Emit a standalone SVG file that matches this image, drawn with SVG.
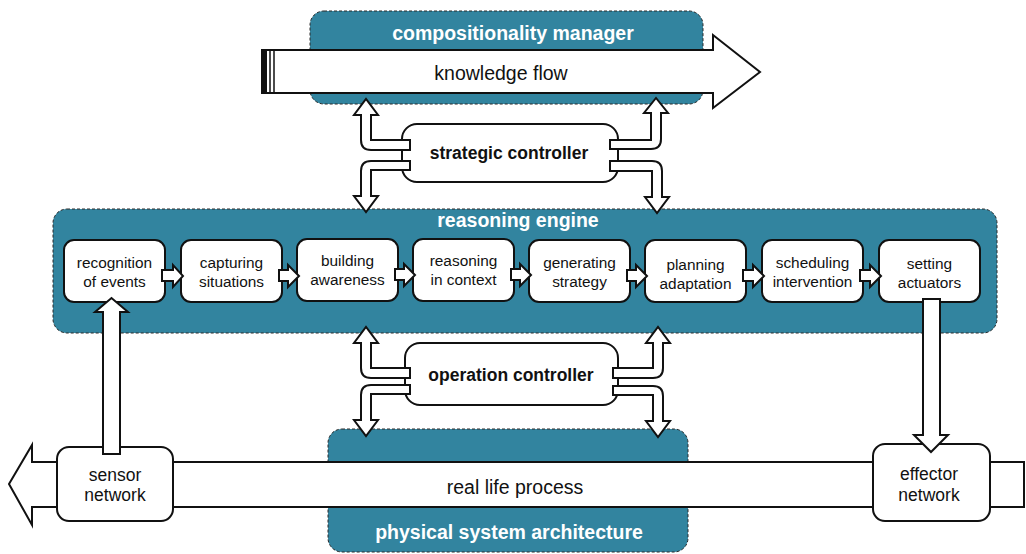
<svg xmlns="http://www.w3.org/2000/svg" width="1026" height="554" viewBox="0 0 1026 554">
<defs>
<style>
.area{fill:#32849f;stroke:#2a2a2a;stroke-width:1;stroke-dasharray:3 2}
.node{fill:#fff;stroke:#111;stroke-width:2}
.arr{fill:#fff;stroke:#111;stroke-width:2;stroke-linejoin:miter}
.t{font-family:"Liberation Sans",Arial,sans-serif;fill:#111;text-anchor:middle}
.s{font-size:15.4px}
.m{font-size:17.5px}
.big{font-size:19.5px}
.b{font-weight:bold}
.w{fill:#fff}
</style>
</defs>
<rect width="1026" height="554" fill="#fff"/>

<g id="compositionality-manager">
<rect class="area" x="310" y="11" width="393" height="93" rx="14"/>
<text class="t big b w" x="513" y="40">compositionality manager</text>
</g>

<g id="reasoning-engine">
<rect class="area" x="53" y="209" width="944" height="124" rx="14"/>
<text class="t big b w" x="518" y="227">reasoning engine</text>
</g>

<g id="physical-system-architecture">
<rect class="area" x="328" y="429" width="360" height="123" rx="14"/>
<text class="t big b w" x="509" y="539">physical system architecture</text>
</g>

<g id="knowledge-flow">
<path class="arr" d="M262,50 H713 V35 L760,72 L713,108 V93 H262 Z"/>
<rect x="262" y="50" width="5" height="43" fill="#111"/>
<line x1="270" y1="50" x2="270" y2="93" stroke="#111" stroke-width="1.5"/>
<line x1="274" y1="50" x2="274" y2="93" stroke="#111" stroke-width="1.5"/>
<text class="t big" x="501" y="80">knowledge flow</text>
</g>

<g id="real-life-process">
<path class="arr" d="M1024,462 V507 H32 V525 L9,484 L32,445 V462 Z"/>
<text class="t big" x="515" y="494">real life process</text>
</g>

<g id="strategic-controller">
<rect class="node" x="402" y="124" width="216" height="58" rx="15"/>
<text class="t m b" x="509" y="159">strategic controller</text>
</g>

<g id="operation-controller">
<rect class="node" x="405" y="343" width="213" height="62" rx="15"/>
<text class="t m b" x="511" y="381">operation controller</text>
</g>

<g id="recognition-of-events">
<rect class="node" x="64" y="240" width="101" height="62" rx="10"/>
<text class="t s" x="114.5" y="268">recognition</text>
<text class="t s" x="114.5" y="287">of events</text>
</g>
<g id="capturing-situations">
<rect class="node" x="181" y="240" width="101" height="62" rx="10"/>
<text class="t s" x="231.5" y="268">capturing</text>
<text class="t s" x="231.5" y="287">situations</text>
</g>
<g id="building-awareness">
<rect class="node" x="297" y="239" width="101" height="62" rx="10"/>
<text class="t s" x="347.5" y="266">building</text>
<text class="t s" x="347.5" y="285">awareness</text>
</g>
<g id="reasoning-in-context">
<rect class="node" x="413" y="239" width="101" height="62" rx="10"/>
<text class="t s" x="463.5" y="266">reasoning</text>
<text class="t s" x="463.5" y="285">in context</text>
</g>
<g id="generating-strategy">
<rect class="node" x="529" y="240" width="101" height="62" rx="10"/>
<text class="t s" x="579.5" y="268">generating</text>
<text class="t s" x="579.5" y="287">strategy</text>
</g>
<g id="planning-adaptation">
<rect class="node" x="645" y="240" width="101" height="62" rx="10"/>
<text class="t s" x="695.5" y="270">planning</text>
<text class="t s" x="695.5" y="289">adaptation</text>
</g>
<g id="scheduling-intervention">
<rect class="node" x="762" y="240" width="101" height="62" rx="10"/>
<text class="t s" x="812.5" y="268">scheduling</text>
<text class="t s" x="812.5" y="287">intervention</text>
</g>
<g id="setting-actuators">
<rect class="node" x="879" y="240" width="101" height="62" rx="10"/>
<text class="t s" x="929.5" y="269">setting</text>
<text class="t s" x="929.5" y="288">actuators</text>
</g>

<g id="sensor-network">
<rect class="node" x="57" y="447" width="116" height="74" rx="12"/>
<text class="t m" x="115" y="481">sensor</text>
<text class="t m" x="115" y="501">network</text>
</g>

<g id="effector-network">
<rect class="node" x="873" y="444" width="117" height="77" rx="12"/>
<text class="t m" x="929" y="480">effector</text>
<text class="t m" x="929" y="501">network</text>
</g>

<g id="connectors">
<path class="arr" d="M410,140 H371 V115 H378 L366,99 L354,115 H361 V140 Q361,150 371,150 H410 Z"/>
<path class="arr" d="M410,161 H371 Q361,161 361,171 V196 H354 L366,212 L378,196 H371 V170 H410 Z"/>
<path class="arr" d="M610,140 H651 V113 H644 L656,98 L668,113 H661 V139 Q661,149 651,149 H610 Z"/>
<path class="arr" d="M610,161 H652 Q662,161 662,171 V197 H669 L657,213 L645,197 H652 V171 H610 Z"/>
<path class="arr" d="M410,368 H371 V343 H378 L366,327 L354,343 H361 V368 Q361,378 371,378 H410 Z"/>
<path class="arr" d="M410,385 H371 Q361,385 361,395 V420 H354 L366,436 L378,420 H371 V394 H410 Z"/>
<path class="arr" d="M613,368 H653 V343 H646 L658,327 L670,343 H663 V368 Q663,378 653,378 H613 Z"/>
<path class="arr" d="M613,386 H653 Q663,386 663,396 V421 H670 L658,437 L646,421 H653 V395 H613 Z"/>
<path class="arr" d="M162,270 H173 V265 L183,276 L173,287 V281 H162 Z"/>
<path class="arr" d="M279,270 H288 V265 L299,276 L288,287 V281 H279 Z"/>
<path class="arr" d="M395,269 H404 V264 L415,275 L404,286 V280 H395 Z"/>
<path class="arr" d="M511,269 H520 V264 L531,275 L520,286 V280 H511 Z"/>
<path class="arr" d="M627,270 H636 V265 L647,276 L636,287 V281 H627 Z"/>
<path class="arr" d="M743,270 H753 V265 L764,276 L753,287 V281 H743 Z"/>
<path class="arr" d="M860,270 H870 V265 L881,276 L870,287 V281 H860 Z"/>
<path class="arr" d="M103,454 V312 H95 L111.5,298 L128,312 H120 V454 Z"/>
<path class="arr" d="M923,299 H940 V435 H948 L931,452 L914,435 H923 Z"/>
</g>
</svg>
